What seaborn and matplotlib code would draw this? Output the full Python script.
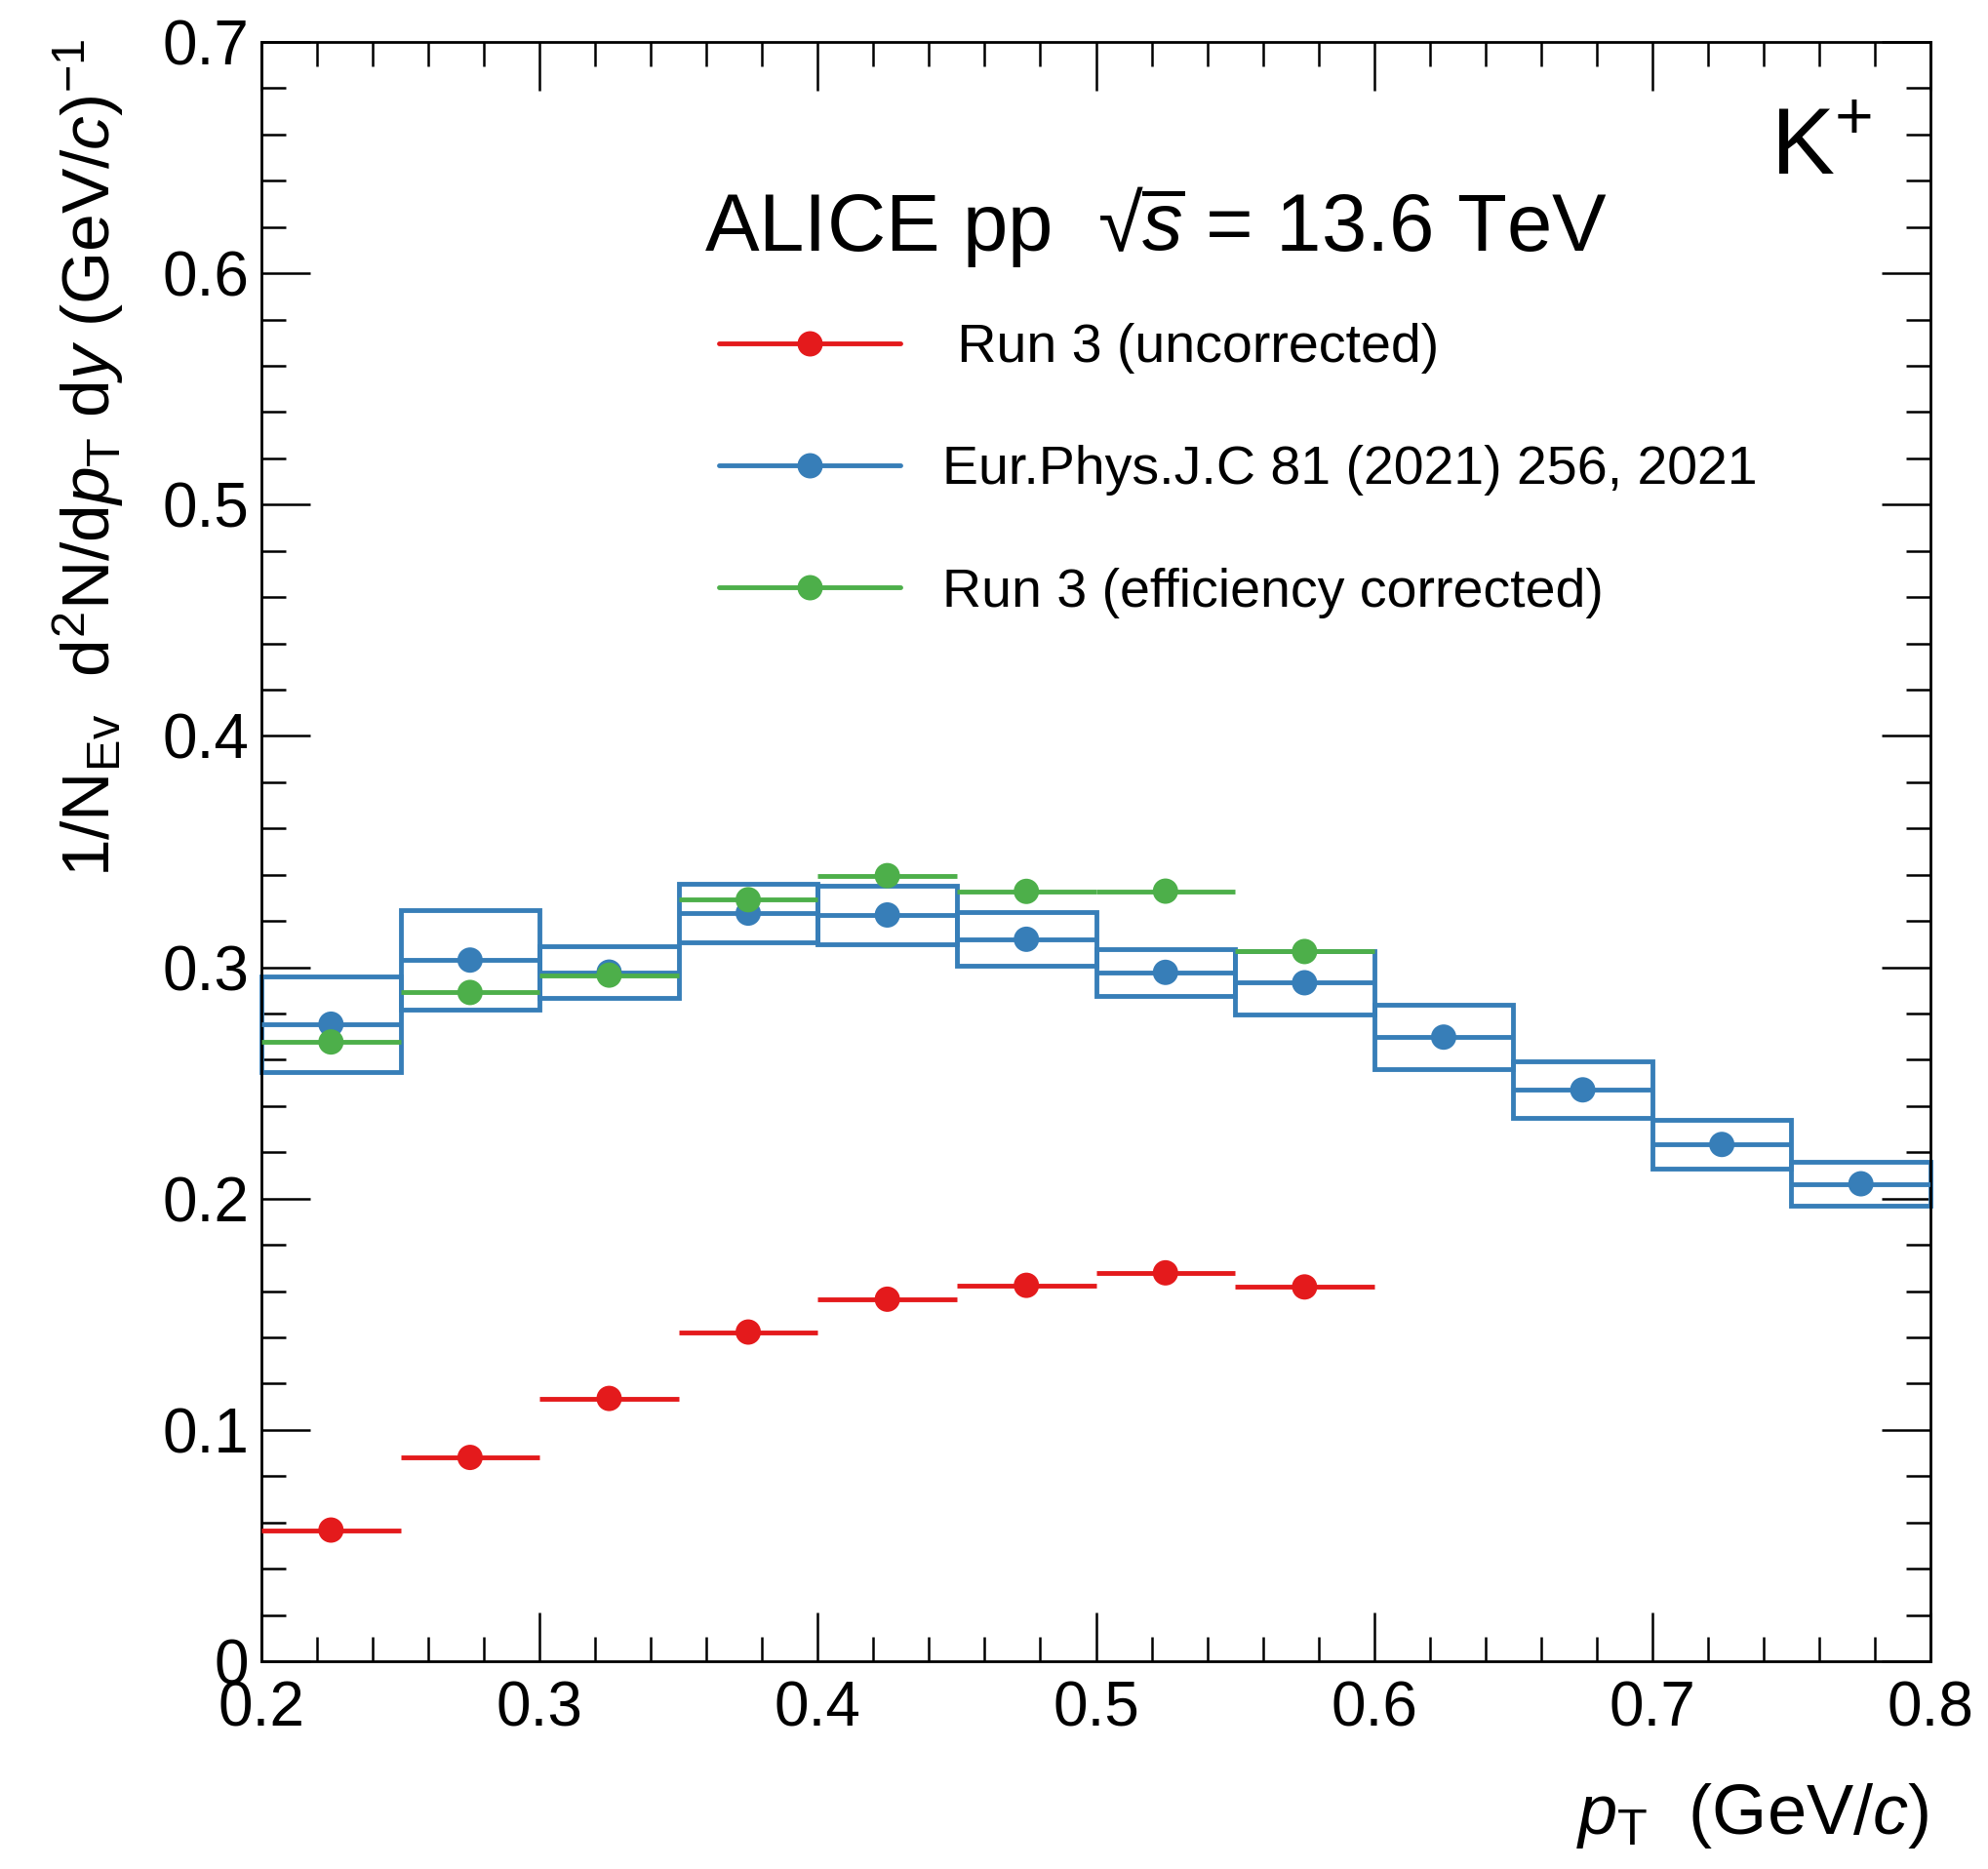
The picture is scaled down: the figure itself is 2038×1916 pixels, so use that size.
import numpy as np
import pandas as pd
import matplotlib
matplotlib.use("Agg")
import matplotlib.pyplot as plt
from matplotlib.lines import Line2D
from matplotlib.ticker import MultipleLocator, FixedLocator, FixedFormatter
import seaborn as sns

# ---------------- data ----------------
bin_width = 0.05
pt_blue = [0.225, 0.275, 0.325, 0.375, 0.425, 0.475, 0.525, 0.575, 0.625, 0.675, 0.725, 0.775]
y_blue = [0.2754, 0.3031, 0.2979, 0.3234, 0.3226, 0.3121, 0.2978, 0.2933, 0.2698, 0.2470, 0.2234, 0.2064]
sys_blue = [0.0205, 0.0214, 0.0110, 0.0127, 0.0125, 0.0116, 0.0100, 0.0138, 0.0139, 0.0123, 0.0105, 0.0095]

pt_run3 = [0.225, 0.275, 0.325, 0.375, 0.425, 0.475, 0.525, 0.575]
y_green = [0.2677, 0.2891, 0.2966, 0.3292, 0.3396, 0.3328, 0.3329, 0.3068]
y_red = [0.0567, 0.0881, 0.1136, 0.1423, 0.1565, 0.1625, 0.1679, 0.1618]

labels = [" Run 3 (uncorrected)", "Eur.Phys.J.C 81 (2021) 256, 2021", "Run 3 (efficiency corrected)"]
xticks = [0.2, 0.3, 0.4, 0.5, 0.6, 0.7, 0.8]
xticklabels = ["0.2", "0.3", "0.4", "0.5", "0.6", "0.7", "0.8"]
yticks = [0.0, 0.1, 0.2, 0.3, 0.4, 0.5, 0.6, 0.7]
yticklabels = ["0", "0.1", "0.2", "0.3", "0.4", "0.5", "0.6", "0.7"]

RED = "#e41a1c"
BLUE = "#377eb8"
GREEN = "#4daf4a"

# ---------------- style ----------------
sns.set_style("ticks")
plt.rcParams["font.family"] = ["Liberation Sans", "DejaVu Sans"]
plt.rcParams["mathtext.fontset"] = "custom"
plt.rcParams["mathtext.rm"] = "Liberation Sans"
plt.rcParams["mathtext.it"] = "Liberation Sans:italic"
plt.rcParams["mathtext.bf"] = "Liberation Sans:bold"
plt.rcParams["text.color"] = "black"
plt.rcParams["axes.labelcolor"] = "black"
plt.rcParams["xtick.color"] = "black"
plt.rcParams["ytick.color"] = "black"
plt.rcParams["axes.edgecolor"] = "black"

W, H = 2038, 1916
fig = plt.figure(figsize=(W / 100, H / 100), dpi=100)
ax = fig.add_axes([268 / W, (H - 1703) / H, (1979 - 268) / W, (1703 - 43) / H])

LW = 3.5
MS = 18.7

df_blue = pd.DataFrame({"pt": pt_blue, "y": y_blue, "sys": sys_blue})
df_run3 = pd.DataFrame({"pt": pt_run3, "green": y_green, "red": y_red})

# blue systematic boxes
ax.bar(df_blue["pt"], 2 * df_blue["sys"], width=bin_width,
       bottom=df_blue["y"] - df_blue["sys"], fill=False,
       edgecolor=BLUE, linewidth=LW, zorder=2, clip_on=False)
ax.errorbar(df_blue["pt"], df_blue["y"], xerr=bin_width / 2, fmt="none",
            ecolor=BLUE, elinewidth=LW, capsize=0, zorder=3)
sns.scatterplot(data=df_blue, x="pt", y="y", ax=ax, color=BLUE, s=MS ** 2,
                edgecolor="none", linewidth=0, zorder=4, legend=False)

# green
ax.errorbar(df_run3["pt"], df_run3["green"], xerr=bin_width / 2, fmt="none",
            ecolor=GREEN, elinewidth=LW, capsize=0, zorder=5)
sns.scatterplot(data=df_run3, x="pt", y="green", ax=ax, color=GREEN, s=MS ** 2,
                edgecolor="none", linewidth=0, zorder=6, legend=False)

# red
ax.errorbar(df_run3["pt"], df_run3["red"], xerr=bin_width / 2, fmt="none",
            ecolor=RED, elinewidth=LW, capsize=0, zorder=7)
sns.scatterplot(data=df_run3, x="pt", y="red", ax=ax, color=RED, s=MS ** 2,
                edgecolor="none", linewidth=0, zorder=8, legend=False)

# axes
ax.set_xlim(0.2, 0.8)
ax.set_ylim(0.0, 0.7)
ax.xaxis.set_major_locator(FixedLocator(xticks))
ax.xaxis.set_major_formatter(FixedFormatter(xticklabels))
ax.yaxis.set_major_locator(FixedLocator(yticks))
ax.yaxis.set_major_formatter(FixedFormatter(yticklabels))
ax.xaxis.set_minor_locator(MultipleLocator(0.02))
ax.yaxis.set_minor_locator(MultipleLocator(0.02))
ax.tick_params(which="both", direction="in", top=True, right=True, colors="black")
ax.tick_params(which="major", length=36, width=1.8, labelsize=46)
ax.tick_params(which="minor", length=18, width=1.8)
ax.tick_params(axis="x", which="major", pad=14)
ax.tick_params(axis="y", which="major", pad=9)
for s in ax.spines.values():
    s.set_linewidth(2.0)
    s.set_color("black")
ax.set_xlabel("")
ax.set_ylabel("")

# axis titles
fig.text(1977 / W, (H - 1880) / H, r"$p_{\mathrm{T}}$  (GeV/$c$)", fontsize=52,
         ha="right", va="baseline")
fig.text(113 / W, (H - 39) / H,
         r"1/N$_{\mathrm{Ev}}$  d$^{2}$N/d$p_{\mathrm{T}}$ d$y$ (GeV/$c$)$^{-1}$",
         fontsize=50, rotation=90, rotation_mode="anchor", ha="right", va="baseline")

# annotations
fig.text(722 / W, (H - 257) / H, "ALICE pp  \u221a$\\overline{s}$ = 13.6 TeV", fontsize=60,
         ha="left", va="baseline")
fig.text(1815 / W, (H - 179) / H, r"K$^{+}$", fontsize=70, ha="left", va="baseline")

# legend
handles = [Line2D([], [], color=c, lw=LW, marker="o", ms=MS, markeredgewidth=0)
           for c in (RED, BLUE, GREEN)]
fig.legend(handles, labels, loc="upper left", bbox_to_anchor=(737 / W, (H - 331) / H),
           frameon=False, fontsize=40, handlelength=3.35, handletextpad=0.77,
           labelspacing=1.32, borderpad=0, borderaxespad=0)

fig.savefig("out.png", dpi=100)
